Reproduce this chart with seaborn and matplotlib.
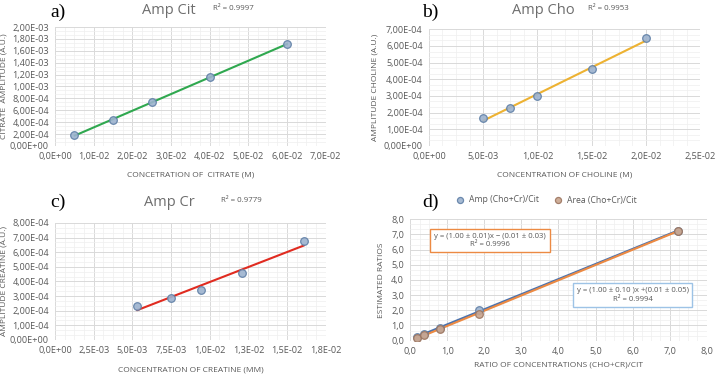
import numpy as np
import pandas as pd
import seaborn as sns
import matplotlib.pyplot as plt
from matplotlib.ticker import FuncFormatter, MultipleLocator, AutoMinorLocator

# a) citrate
cit_conc = [0.005, 0.015, 0.025, 0.040, 0.060]
cit_amp = [1.75e-4, 4.35e-4, 7.45e-4, 1.16e-3, 1.71e-3]
# b) choline
cho_conc = [0.005, 0.0075, 0.010, 0.015, 0.020]
cho_amp = [1.66e-4, 2.29e-4, 2.97e-4, 4.60e-4, 6.45e-4]
# c) creatine
cr_conc = [0.0053, 0.0075, 0.0094, 0.0121, 0.0161]
cr_amp = [2.33e-4, 2.90e-4, 3.43e-4, 4.57e-4, 6.74e-4]
# d) ratios
ratio_conc = [0.18, 0.37, 0.80, 1.85, 7.22]
ratio_amp = [0.22, 0.42, 0.86, 2.03, 7.23]
ratio_area = [0.18, 0.36, 0.75, 1.78, 7.22]

sns.set_theme(style="white")
plt.rcParams['font.family'] = ['Open Sans', 'DejaVu Sans']

GRAY = '#595959'
MK_BLUE = dict(s=30, color='#9DB3CF', edgecolors='#5F7FA6', linewidths=0.9, alpha=0.9, zorder=3)
MK_ORANGE = dict(s=30, color='#C9A58E', edgecolors='#9C7560', linewidths=0.9, alpha=0.9, zorder=3)

fig = plt.figure(figsize=(7.16, 3.76), dpi=100)
ax_a = fig.add_axes([0.077, 0.612, 0.378, 0.316])
ax_b = fig.add_axes([0.599, 0.612, 0.379, 0.310])
ax_c = fig.add_axes([0.077, 0.096, 0.378, 0.311])
ax_d = fig.add_axes([0.573, 0.094, 0.414, 0.323])


def fmt(dec):
    def f(v, pos):
        if dec == 'f':
            return f"{v:.1f}".replace('.', ',')
        # excel style rounding (half up)
        return f"{v * (1 + 1e-9):.{dec}E}".replace('.', ',')
    return FuncFormatter(f)


def style(ax, xmax, xstep, ymax, ystep, xdec, ydec, xlabel, ylabel, ylx, xly):
    ax.set_xlim(0, xmax)
    ax.set_ylim(0, ymax)
    ax.xaxis.set_major_locator(MultipleLocator(xstep))
    ax.yaxis.set_major_locator(MultipleLocator(ystep))
    ax.xaxis.set_minor_locator(AutoMinorLocator(4))
    ax.yaxis.set_minor_locator(AutoMinorLocator(3))
    ax.xaxis.set_major_formatter(fmt(xdec))
    ax.yaxis.set_major_formatter(fmt(ydec))
    ax.grid(which='major', color='#D9D9D9', lw=0.7)
    ax.grid(which='minor', color='#EFEFEF', lw=0.5)
    ax.set_axisbelow(True)
    for s in ax.spines.values():
        s.set_visible(False)
    ax.tick_params(which='both', length=0, labelsize=6.6, labelcolor=GRAY, pad=4.5)
    ax.set_xlabel(xlabel, fontsize=6, color=GRAY)
    ax.set_ylabel(ylabel, fontsize=6, color=GRAY)
    ax.yaxis.set_label_coords(ylx, 0.5)
    ax.xaxis.set_label_coords(0.5, xly)


# a)
sns.regplot(x=cit_conc, y=cit_amp, ax=ax_a, ci=None, scatter_kws=MK_BLUE,
            line_kws=dict(color='#2FA84F', lw=1.5, zorder=2))
style(ax_a, 0.07, 0.01, 2.0e-3, 2e-4, 1, 2,
      'CONCETRATION OF  CITRATE (M)', 'CITRATE  AMPLITUDE (A.U.)', -0.177, -0.218)

# b)
sns.regplot(x=cho_conc, y=cho_amp, ax=ax_b, ci=None, scatter_kws=MK_BLUE,
            line_kws=dict(color='#EDB232', lw=1.5, zorder=2))
style(ax_b, 0.025, 0.005, 7.0e-4, 1e-4, 1, 2,
      'CONCENTRATION OF CHOLINE (M)', 'AMPLITUDE CHOLINE (A.U.)', -0.185, -0.222)

# c)
sns.regplot(x=cr_conc, y=cr_amp, ax=ax_c, ci=None, scatter_kws=MK_BLUE,
            line_kws=dict(color='#E02B20', lw=1.5, zorder=2))
style(ax_c, 0.0175, 0.0025, 8.0e-4, 1e-4, 1, 2,
      'CONCENTRATION OF CREATINE (MM)', 'AMPLITUDE CREATINE (A.U.)', -0.177, -0.23)

# d)
sns.regplot(x=ratio_conc, y=ratio_amp, ax=ax_d, ci=None, scatter_kws=MK_BLUE,
            line_kws=dict(color='#4A72AE', lw=1.5, zorder=2), label='Amp (Cho+Cr)/Cit')
sns.regplot(x=ratio_conc, y=ratio_area, ax=ax_d, ci=None, scatter_kws=MK_ORANGE,
            line_kws=dict(color='#EC8A43', lw=1.5, zorder=2), label='Area (Cho+Cr)/Cit')
style(ax_d, 8.0, 1.0, 8.0, 1.0, 'f', 'f',
      'RATIO OF CONCENTRATIONS (CHO+CR)/CIT', 'ESTIMATED RATIOS', -0.084, -0.168)
ax_d.text(2.15, 6.6, 'y = (1.00 ± 0.01)x − (0.01 ± 0.03)\nR² = 0.9996', ha='center', va='center',
          fontsize=5.6, color=GRAY, linespacing=1.3,
          bbox=dict(boxstyle='square,pad=0.5', fc='white', ec='#EC8A43', lw=1.0))
ax_d.text(6.0, 3.0, 'y = (1.00 ± 0.10 )x +(0.01 ± 0.05)\nR² = 0.9994', ha='center', va='center',
          fontsize=5.6, color=GRAY, linespacing=1.3,
          bbox=dict(boxstyle='square,pad=0.5', fc='white', ec='#9DC3E6', lw=1.0))
h, l = ax_d.get_legend_handles_labels()
pts = [hh for hh in h if hasattr(hh, 'get_offsets')]
fig.legend(pts[:2], ['Amp (Cho+Cr)/Cit', 'Area (Cho+Cr)/Cit'], loc='center',
           bbox_to_anchor=(544 / 716, 1 - 200 / 376), ncol=2, frameon=False,
           fontsize=6.2, labelcolor=GRAY, handletextpad=0.1, columnspacing=1.2,
           markerscale=0.8)

# titles and panel letters
for x, y, t in [(169, 10, 'Amp Cit'), (543, 10, 'Amp Cho'), (169, 203, 'Amp Cr')]:
    fig.text(x / 716, 1 - y / 376, t, ha='center', va='center', fontsize=10.5, color='#6E6E6E')
for x, y, t in [(213, 8, 'R² = 0.9997'), (588, 9, 'R² = 0.9953'), (221, 201, 'R² = 0.9779')]:
    fig.text(x / 716, 1 - y / 376, t, ha='left', va='center', fontsize=5.7, color=GRAY)
for x, y, t in [(50, 12, 'a)'), (422, 12, 'b)'), (50, 202, 'c)'), (422, 202, 'd)')]:
    fig.text(x / 716, 1 - y / 376, t, ha='left', va='center', fontsize=14,
             color='black', family='Liberation Serif')

fig.savefig('out.png', dpi=100)
